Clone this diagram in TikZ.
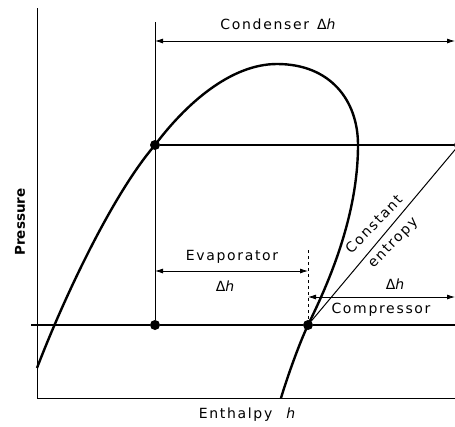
\documentclass[tikz,border=0pt]{standalone}
\usepackage{fontspec}
\setmainfont{DejaVu Sans}
\newfontfamily\lblfont[LetterSpace=12]{DejaVu Sans}
\usetikzlibrary{arrows.meta}

\tikzset{
  dot/.style={circle,fill,inner sep=0pt,minimum size=10pt},
  dim/.style={{Latex[length=8pt,width=5pt]}-{Latex[length=8pt,width=5pt]},line width=0.8pt},
  lbl/.style={font=\lblfont\fontsize{14}{26}\selectfont,inner sep=0pt},
}

\begin{document}
\begin{tikzpicture}[x=1pt,y=-1pt]
    \useasboundingbox (0,0) rectangle (455,426);
    % axes
    \coordinate (ytop) at (37,8);
    \coordinate (orig) at (37,398);
    \coordinate (xend) at (455,398);
    \draw[line width=0.8pt] (ytop) -- (orig) -- (xend);
    % state points
    \node (cond) at (155,145) [dot] {};
    \node (evap) at (155,325) [dot] {};
    \node (comp) at (308,325) [dot] {};
    \node (disc) at (459,145) [dot] {};
    % saturation dome
    \coordinate (liqend) at (37,368);
    \coordinate (peak) at (277,64);
    \coordinate (vapmax) at (358,145);
    \coordinate (vapend) at (281,398);
    \draw[line width=2.4pt] (liqend) .. controls (63,300) and (112,195) .. (cond.center)
        .. controls (185,105) and (230,64) .. (peak)
        .. controls (330,64) and (358,100) .. (vapmax)
        .. controls (358,220) and (325,290) .. (comp.center)
        .. controls (299,344) and (287,378) .. (vapend);
    % cycle lines
    \coordinate (lowl) at (31,325);
    \coordinate (lowr) at (455,325);
    \draw[line width=1.2pt] (lowl) -- (evap) -- (comp) -- (lowr);
    \draw[line width=2pt] (cond) -- (disc);
    \draw[line width=1pt] (comp) -- (disc);
    \coordinate (vtop) at (155,22);
    \draw[line width=0.8pt] (vtop) -- (evap);
    \coordinate (dtop) at (308,250);
    \draw[dashed,line width=0.6pt] (dtop) -- (comp);
    % dimension arrows
    \coordinate (conda) at (155,41);
    \coordinate (condb) at (455,41);
    \draw[dim] (conda) -- (condb);
    \coordinate (evapa) at (155,271);
    \coordinate (evapb) at (308,271);
    \draw[dim] (evapa) -- (evapb);
    \coordinate (compa) at (308,297);
    \coordinate (compb) at (455,297);
    \draw[dim] (compa) -- (compb);
    % labels
    \node (condlbl) at (278,24) [lbl] {Condenser\hspace{8pt}Δ{\itshape h}};
    \node (evaplbl) at (232,257) [lbl] {Evaporator};
    \node (evapdh) at (225,286) [lbl] {Δ{\itshape h}};
    \node (entlbl) at (384,234) [lbl,rotate=46,align=center] {Constant\\entropy};
    \node (compdh) at (395,284) [lbl] {Δ{\itshape h}};
    \node (complbl) at (381,310) [lbl] {Compressor};
    \node (xlbl) at (247,415) [lbl] {Enthalpy\hspace{14pt}{\itshape h}};
    \node (ylbl) at (20,222) [rotate=90,font=\bfseries\fontsize{13.5}{16}\selectfont] {Pressure};
\end{tikzpicture}
\end{document}
